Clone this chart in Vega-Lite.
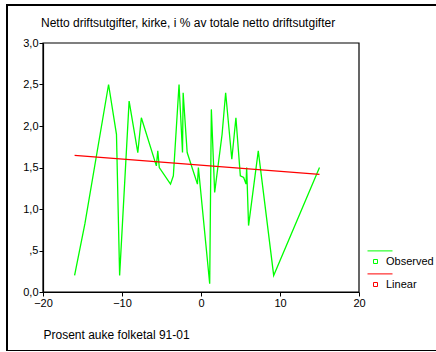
{
  "$schema": "https://vega.github.io/schema/vega-lite/v6.json",
  "width": 433,
  "height": 346,
  "padding": {"left": 7, "top": 5, "right": 0, "bottom": 0},
  "autosize": {"type": "none"},
  "background": "white",
  "config": {
    "view": {"stroke": "black", "strokeWidth": 2},
    "font": "Liberation Sans",
    "axis": {
      "grid": false,
      "domainColor": "black",
      "domainWidth": 1.2,
      "tickColor": "black",
      "tickWidth": 1,
      "tickSize": 4,
      "labelColor": "black",
      "labelFontSize": 11,
      "labelFont": "Liberation Sans",
      "labelFlush": false,
      "titleFont": "Liberation Sans",
      "titleFontWeight": "normal",
      "titleFontSize": 12,
      "titleColor": "black"
    },
    "axisX": {"offset": -59, "labelPadding": 1, "titleX": 36, "titleY": 46, "titleAlign": "left", "titleAnchor": "start", "titleBaseline": "alphabetic"},
    "axisY": {"offset": -36, "labelPadding": 1}
  },
  "layer": [
    {
      "data": {"values": [{}]},
      "mark": {"type": "rect", "fill": null, "stroke": "black", "strokeWidth": 1.2},
      "encoding": {
        "x": {"datum": -20, "type": "quantitative"},
        "x2": {"datum": 20},
        "y": {"datum": 0, "type": "quantitative"},
        "y2": {"datum": 3}
      }
    },
    {
      "data": {"values": [
        {"x": -16.0, "y": 0.20, "series": "Observed"},
        {"x": -14.7, "y": 0.82, "series": "Observed"},
        {"x": -11.7, "y": 2.50, "series": "Observed"},
        {"x": -10.7, "y": 1.90, "series": "Observed"},
        {"x": -10.3, "y": 0.20, "series": "Observed"},
        {"x": -9.1, "y": 2.30, "series": "Observed"},
        {"x": -8.0, "y": 1.68, "series": "Observed"},
        {"x": -7.55, "y": 2.10, "series": "Observed"},
        {"x": -5.65, "y": 1.52, "series": "Observed"},
        {"x": -5.47, "y": 1.70, "series": "Observed"},
        {"x": -5.28, "y": 1.50, "series": "Observed"},
        {"x": -3.86, "y": 1.30, "series": "Observed"},
        {"x": -3.5, "y": 1.40, "series": "Observed"},
        {"x": -2.78, "y": 2.50, "series": "Observed"},
        {"x": -2.34, "y": 1.68, "series": "Observed"},
        {"x": -2.26, "y": 2.40, "series": "Observed"},
        {"x": -1.75, "y": 1.68, "series": "Observed"},
        {"x": -0.45, "y": 1.30, "series": "Observed"},
        {"x": -0.33, "y": 1.50, "series": "Observed"},
        {"x": 1.10, "y": 0.10, "series": "Observed"},
        {"x": 1.31, "y": 2.20, "series": "Observed"},
        {"x": 1.73, "y": 1.20, "series": "Observed"},
        {"x": 2.67, "y": 1.90, "series": "Observed"},
        {"x": 3.12, "y": 2.40, "series": "Observed"},
        {"x": 3.90, "y": 1.60, "series": "Observed"},
        {"x": 4.42, "y": 2.10, "series": "Observed"},
        {"x": 4.98, "y": 1.40, "series": "Observed"},
        {"x": 5.40, "y": 1.38, "series": "Observed"},
        {"x": 5.70, "y": 1.30, "series": "Observed"},
        {"x": 5.78, "y": 1.50, "series": "Observed"},
        {"x": 6.02, "y": 0.80, "series": "Observed"},
        {"x": 7.25, "y": 1.70, "series": "Observed"},
        {"x": 9.2, "y": 0.20, "series": "Observed"},
        {"x": 15.0, "y": 1.50, "series": "Observed"},
        {"x": -16.0, "y": 1.645, "series": "Linear"},
        {"x": 15.0, "y": 1.416, "series": "Linear"}
      ]},
      "mark": {"type": "line", "strokeWidth": 1.3},
      "encoding": {
        "x": {
          "field": "x", "type": "quantitative",
          "scale": {"domain": [-20, 20], "range": [36, 352], "nice": false, "zero": false},
          "axis": {"values": [-20, -10, 0, 10, 20]},
          "title": "Prosent auke folketal 91-01"
        },
        "y": {
          "field": "y", "type": "quantitative",
          "scale": {"domain": [0, 3], "range": [287, 38], "nice": false},
          "axis": {"values": [0, 0.5, 1, 1.5, 2, 2.5, 3], "labelExpr": "datum.value == 0.5 ? ',5' : replace(format(datum.value, '.1f'), '.', ',')"},
          "title": null
        },
        "stroke": {
          "field": "series", "type": "nominal",
          "scale": {"domain": ["Observed", "Linear"], "range": ["#00ff00", "#ff0000"]},
          "legend": {
            "orient": "none", "legendX": 363, "legendY": 251, "title": null,
            "symbolType": "M -4 -5.3 H 8.5 M -1 -1 H 1 V 1 H -1 Z",
            "symbolSize": 16, "symbolStrokeWidth": 1, "symbolFillColor": "white",
            "labelFontSize": 11, "labelColor": "black", "labelOffset": 5, "rowPadding": 4, "padding": 0
          }
        }
      }
    },
    {
      "data": {"values": [{}]},
      "mark": {"type": "text", "align": "left", "baseline": "alphabetic", "dx": -2, "dy": -16, "fontSize": 12, "font": "Liberation Sans", "color": "black", "text": "Netto driftsutgifter, kirke, i % av totale netto driftsutgifter"},
      "encoding": {
        "x": {"datum": -20, "type": "quantitative"},
        "y": {"datum": 3, "type": "quantitative"}
      }
    }
  ]
}
